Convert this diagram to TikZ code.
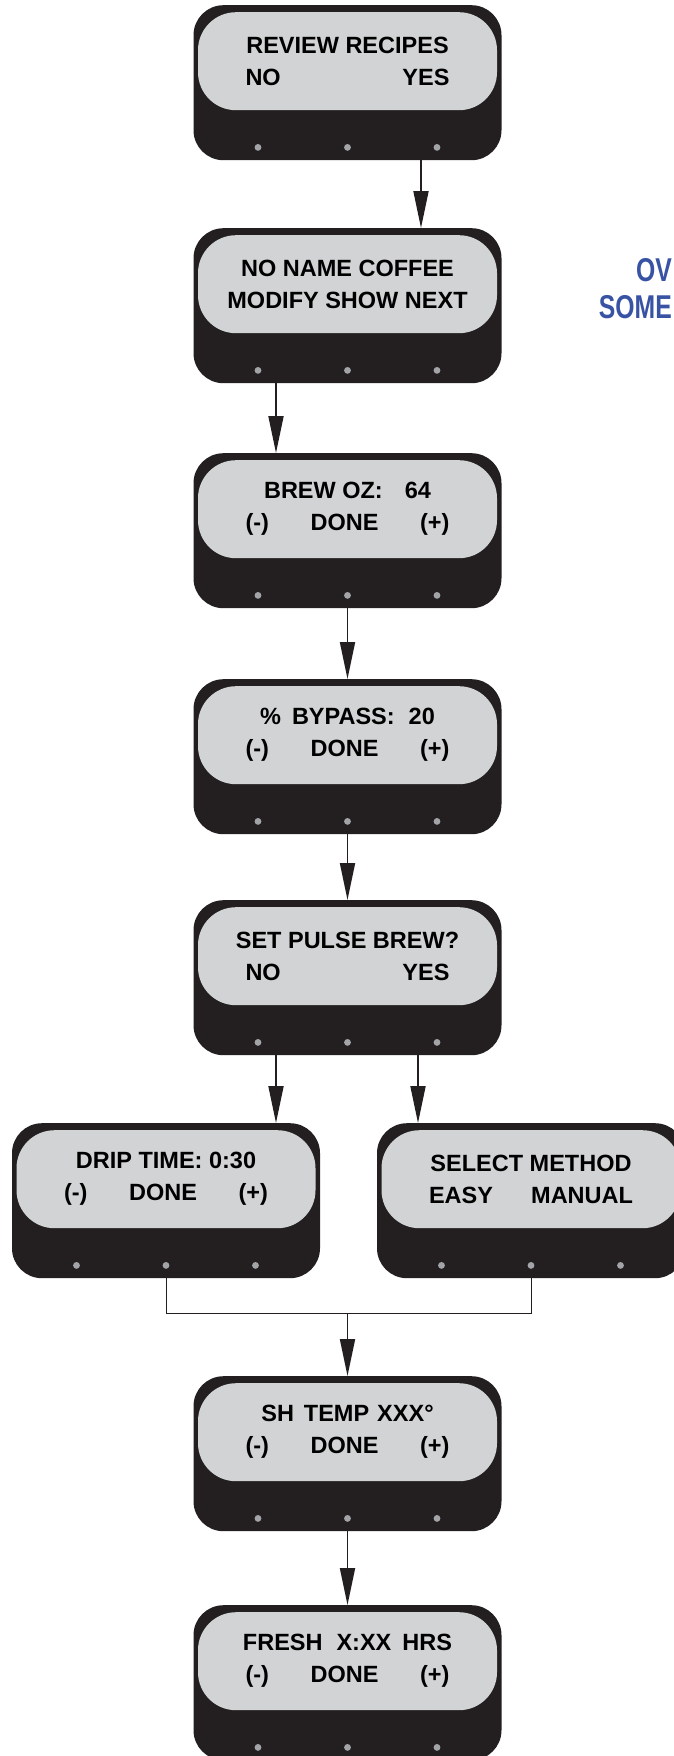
\documentclass[tikz,border=0pt]{standalone}
\usepackage{fontspec}
\setmainfont{Liberation Sans}
\newfontfamily\narrowfont[FakeStretch=0.75]{Liberation Sans}
\usetikzlibrary{arrows.meta,positioning}
\definecolor{casegray}{HTML}{231F20}
\definecolor{screengray}{HTML}{D1D3D4}
\definecolor{ledgray}{HTML}{A2A4A7}
\definecolor{noteblue}{HTML}{3953A4}
\begin{document}
\begin{tikzpicture}[x=1pt, y=-1pt,%
% common options for the black cases:
case/.style = {fill=casegray, rounded corners=30pt, anchor=north,
            minimum width=308pt, minimum height=155pt, inner sep=0},
% common options for the grey screens:
screen/.style = {fill=screengray, rounded corners=38pt, align=center,
            minimum width=299pt, minimum height=98pt, inner sep=0,
            font=\fontsize{23.5}{32}\selectfont\bfseries},
% arrows and the joining line:
flow/.style = {-{Triangle[length=37pt,width=15pt]}, line width=1.8pt, draw=casegray},
mergeline/.style = {line width=0.9pt, draw=casegray},
note/.style = {text=noteblue, inner sep=0, anchor=base east,
            font=\narrowfont\fontsize{33}{36}\selectfont\bfseries}]
\useasboundingbox (0,0) rectangle (673,1756);
% cases
\node[case] (P1) at (347.5,5) {};
\node[case] (P2) at (347.5,228) {};
\node[case] (P3) at (347.5,453) {};
\node[case] (P4) at (347.5,679) {};
\node[case] (P5) at (347.5,900) {};
\node[case] (P6) at (166,1123) {};
\node[case] (P7) at (531,1123) {};
\node[case] (P8) at (347.5,1376) {};
\node[case] (P9) at (347.5,1605) {};
% screens
\node[screen, below=7pt of P1.north] (S1) {REVIEW RECIPES\\\makebox[204pt]{NO\hfill YES}};
\node[screen, below=7pt of P2.north] (S2) {NO NAME COFFEE\\MODIFY SHOW NEXT};
\node[screen, below=7pt of P3.north] (S3) {BREW OZ:\hspace{22pt}64\\\makebox[204pt]{(-)\hfill DONE\hfill (+)}};
\node[screen, below=7pt of P4.north] (S4) {\%\hspace{11pt}BYPASS:\hspace{14pt}20\\\makebox[204pt]{(-)\hfill DONE\hfill (+)}};
\node[screen, below=7pt of P5.north] (S5) {SET PULSE BREW?\\\makebox[204pt]{NO\hfill YES}};
\node[screen, below=7pt of P6.north] (S6) {DRIP TIME: 0:30\\\makebox[204pt]{(-)\hfill DONE\hfill (+)}};
\node[screen, below=7pt of P7.north] (S7) {SELECT METHOD\\\makebox[204pt]{EASY\hfill MANUAL}};
\node[screen, below=7pt of P8.north] (S8) {SH\hspace{10pt}TEMP\hspace{8pt}XXX°\\\makebox[204pt]{(-)\hfill DONE\hfill (+)}};
\node[screen, below=7pt of P9.north] (S9) {FRESH\hspace{14pt}X:XX\hspace{11pt}HRS\\\makebox[204pt]{(-)\hfill DONE\hfill (+)}};
% buttons
\foreach \p in {P1,P2,P3,P4,P5,P6,P7,P8,P9}
  \foreach \dx in {-89.5,0,89.5}
    \fill[ledgray] ([xshift=\dx pt,yshift=13pt]\p.south) circle (3.4pt);
% side note at the page edge
\node[note] (note1) at (672,281) {OV};
\node[note] (note2) at (672,318) {SOME};
% arrows
\draw[flow] ([xshift=73.5pt]P1.south) -- ([xshift=73.5pt]P2.north);
\draw[flow] ([xshift=-71.5pt]P2.south) -- ([xshift=-71.5pt]P3.north);
\draw[flow] (P3.south) -- (P4.north);
\draw[flow] (P4.south) -- (P5.north);
\draw[flow] ([xshift=-71.5pt]P5.south) -- ([xshift=-71.5pt]P5.south |- P6.north);
\draw[flow] ([xshift=70.5pt]P5.south) -- ([xshift=70.5pt]P5.south |- P7.north);
\coordinate (M) at (347.5,1313);
\draw[mergeline] (P6.south) |- (M) -| (P7.south);
\draw[flow] (M) -- (P8.north);
\draw[flow] (P8.south) -- (P9.north);
\end{tikzpicture}
\end{document}
